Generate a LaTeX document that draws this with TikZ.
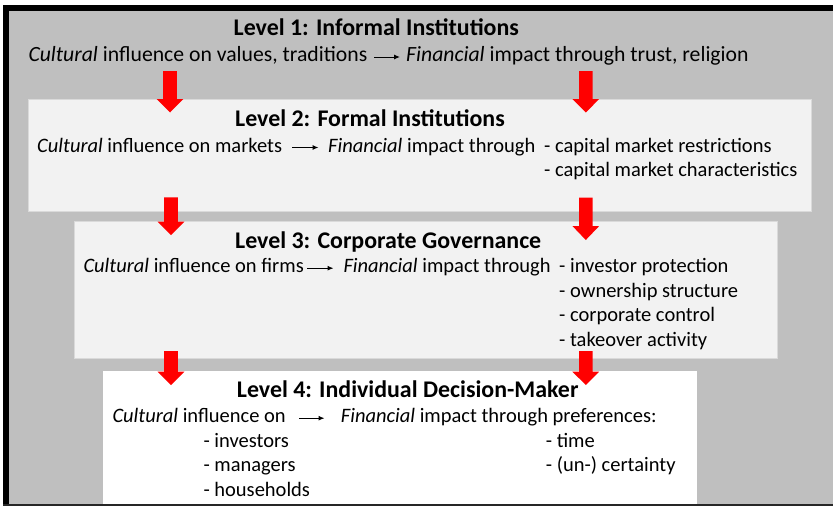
\documentclass[tikz,border=0pt]{standalone}
\usepackage{fontspec}
\setmainfont{Carlito}
\usetikzlibrary{arrows.meta}
\definecolor{framegray}{HTML}{BFBFBF}
\definecolor{panelgray}{HTML}{F2F2F2}
\definecolor{panelline}{HTML}{DADADA}
% red block arrow: centre x, top y, start of head y, tip y
\newcommand\levelarrow[4]{%
  \fill[red] (#1-6.8,#2) -- (#1+6.8,#2) -- (#1+6.8,#3) -- (#1+13.4,#3)
    -- (#1,#4) -- (#1-13.4,#3) -- (#1-6.8,#3) -- cycle;}
\begin{document}
\begin{tikzpicture}[x=1pt,y=-1pt,
  body/.style={anchor=base west, inner sep=0pt, font=\fontsize{20.5}{24}\selectfont},
  bodylarge/.style={anchor=base west, inner sep=0pt, font=\fontsize{21.7}{26}\selectfont},
  heading/.style={anchor=base west, inner sep=0pt, font=\fontsize{23.9}{28}\selectfont\bfseries},
  panel/.style={anchor=north west, inner sep=0pt, fill=panelgray, draw=panelline, line width=0.8pt},
  flow/.style={-{Latex[length=6pt,width=5pt]}, line width=1pt}]
\useasboundingbox (0,0) rectangle (833,506);
% outer frame
\fill[white] (0,0) rectangle (833,506);
\fill[framegray] (3,5) rectangle (833,506);
\draw[line width=6pt] (3,8) -- (833,8);
\draw[line width=6pt] (6,5) -- (6,506);
\draw[line width=2pt, black!85] (3,505) -- (833,505);

% level panels
\node[panel, minimum width=782.5pt, minimum height=112.3pt] (box2) at (28,98.7) {};
\node[panel, minimum width=702.7pt, minimum height=137pt] (box3) at (74,220.7) {};
\node[anchor=north west, inner sep=0pt, fill=white, minimum width=594pt, minimum height=133pt] (box4) at (102.7,371) {};

% Level 1
\node[heading] (t1) at (233.5,35) {Level 1: Informal Institutions};
\node[bodylarge] (c1) at (28.3,61.5) {\textit{Cultural} influence on values, traditions};
\node[bodylarge] (f1) at (406,61.5) {\textit{Financial} impact through trust, religion};
\coordinate (a1s) at (374,57);
\coordinate (a1e) at (400,57);
\draw[flow] (a1s) -- (a1e);

% Level 2
\node[heading] (t2) at (235,126.5) {Level 2: Formal Institutions};
\node[body] (c2) at (37,152) {\textit{Cultural} influence on markets};
\node[body] (f2) at (328,152) {\textit{Financial} impact through};
\node[body] (r2a) at (544,152) {- capital market restrictions};
\node[body] (r2b) at (544,176.5) {- capital market characteristics};
\coordinate (a2s) at (292,147.5);
\coordinate (a2e) at (318.5,147.5);
\draw[flow] (a2s) -- (a2e);

% Level 3
\node[heading] (t3) at (235,248.3) {Level 3: Corporate Governance};
\node[body] (c3) at (83.3,272.7) {\textit{Cultural} influence on firms};
\node[body] (f3) at (343.3,272.7) {\textit{Financial} impact through};
\node[body] (r3a) at (559,272.7) {- investor protection};
\node[body] (r3b) at (559,297.3) {- ownership structure};
\node[body] (r3c) at (559,321.7) {- corporate control};
\node[body] (r3d) at (559,346) {- takeover activity};
\coordinate (a3s) at (307,268.2);
\coordinate (a3e) at (333.5,268.2);
\draw[flow] (a3s) -- (a3e);

% Level 4
\node[heading] (t4) at (236.7,397.7) {Level 4: Individual Decision-Maker};
\node[body] (c4) at (112.3,422.7) {\textit{Cultural} influence on};
\node[body] (f4) at (340.7,422.7) {\textit{Financial} impact through preferences:};
\node[body] (l4a) at (203.3,447.7) {- investors};
\node[body] (l4b) at (203.3,471.7) {- managers};
\node[body] (l4c) at (203.3,496) {- households};
\node[body] (r4a) at (545.7,447.7) {- time};
\node[body] (r4b) at (545.7,471.7) {- (un-) certainty};
\coordinate (a4s) at (299,418.2);
\coordinate (a4e) at (324.5,418.2);
\draw[flow] (a4s) -- (a4e);

% red arrows between levels
\levelarrow{170}{71}{99}{112.5}
\levelarrow{585.8}{71}{99}{112.5}
\levelarrow{171}{197.3}{221.7}{235}
\levelarrow{585.8}{197.7}{226}{240}
\levelarrow{171}{351}{371.7}{385}
\levelarrow{585.8}{351}{371.7}{385}
\end{tikzpicture}
\end{document}
